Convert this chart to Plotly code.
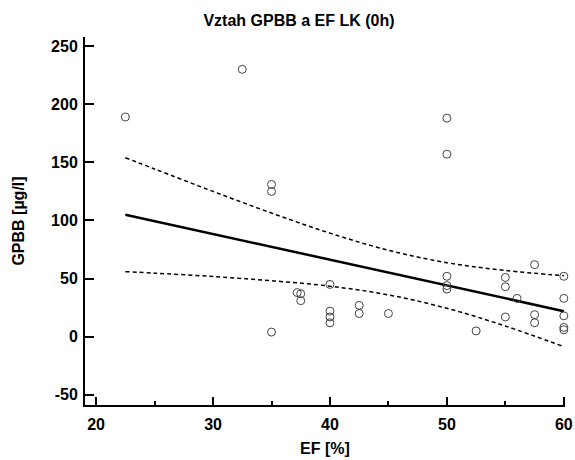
import plotly.graph_objects as go

# Scatter data (EF [%], GPBB [ug/l])
ef = [22.5, 32.5, 35, 35, 35, 37.2, 37.5, 37.5, 40, 40, 40, 40, 42.5, 42.5, 45,
      50, 50, 50, 50, 50, 52.5, 55, 55, 55, 56, 57.5, 57.5, 57.5, 60, 60, 60, 60, 60]
gpbb = [189, 230, 131, 125, 4, 38, 37, 31, 45, 22, 17, 12, 27, 20, 20,
        188, 157, 52, 44, 41, 5, 51, 43, 17, 33, 62, 19, 12, 52, 33, 18, 8, 6]

# Regression line and 95% confidence band
fit_x = [22.5, 60]
fit_y = [105, 22]
band_x = [22.5, 25, 30, 35, 40, 45, 50, 55, 60]
band_upper = [154, 144.3, 125, 106.4, 89.1, 74.4, 63.7, 57, 52.5]
band_lower = [56, 54.7, 51.8, 48.2, 43.5, 36, 24.5, 9.2, -8.5]

x_ticks = [20, 30, 40, 50, 60]
y_ticks = [-50, 0, 50, 100, 150, 200, 250]

FONT = "Liberation Sans, Arial, sans-serif"

fig = go.Figure()
for yb in (band_upper, band_lower):
    fig.add_trace(go.Scatter(x=band_x, y=yb, mode="lines",
                             line=dict(color="black", width=1.5, dash="4px,3px", shape="spline"),
                             hoverinfo="skip", showlegend=False))
fig.add_trace(go.Scatter(x=fit_x, y=fit_y, mode="lines",
                         line=dict(color="black", width=2.5), showlegend=False))
fig.add_trace(go.Scatter(x=ef, y=gpbb, mode="markers",
                         marker=dict(symbol="circle-open", size=8, color="#444",
                                     line=dict(width=1, color="#444")),
                         cliponaxis=False, showlegend=False))

fig.update_layout(
    width=575, height=460,
    margin=dict(l=85, r=10, t=37, b=55),
    paper_bgcolor="white", plot_bgcolor="white",
    font=dict(family=FONT, size=16, color="black"),
    title=dict(text="<b>Vztah GPBB a EF LK (0h)</b>", x=299 / 575, xanchor="center",
               xref="container", y=1 - 20 / 460, yanchor="middle", yref="container",
               font=dict(size=16, family=FONT, color="black")),
)
fig.update_xaxes(
    range=[19.05, 60.1], tickvals=x_ticks, ticktext=[f"<b>{v}</b>" for v in x_ticks],
    ticks="inside", ticklen=8, tickwidth=2, tickcolor="black",
    minor=dict(ticks="inside", ticklen=4, tickwidth=2, tickcolor="black", dtick=5, tick0=25),
    showline=True, linecolor="black", linewidth=2, showgrid=False, zeroline=False,
    tickfont=dict(size=16, family=FONT), ticklabelstandoff=4, automargin=False,
    title=dict(text="<b>EF [%]</b>", font=dict(size=16, family=FONT), standoff=11),
)
fig.update_yaxes(
    range=[-58.7, 257.8], tickvals=y_ticks, ticktext=[f"<b>{v}</b>" for v in y_ticks],
    ticks="inside", ticklen=9, tickwidth=2, tickcolor="black",
    showline=True, linecolor="black", linewidth=2, showgrid=False, zeroline=False,
    tickfont=dict(size=16, family=FONT), ticklabelstandoff=2, automargin=False,
    title=dict(text="<b>GPBB [µg/l]</b>", font=dict(size=16, family=FONT), standoff=22),
)

fig.write_html("out.html")
